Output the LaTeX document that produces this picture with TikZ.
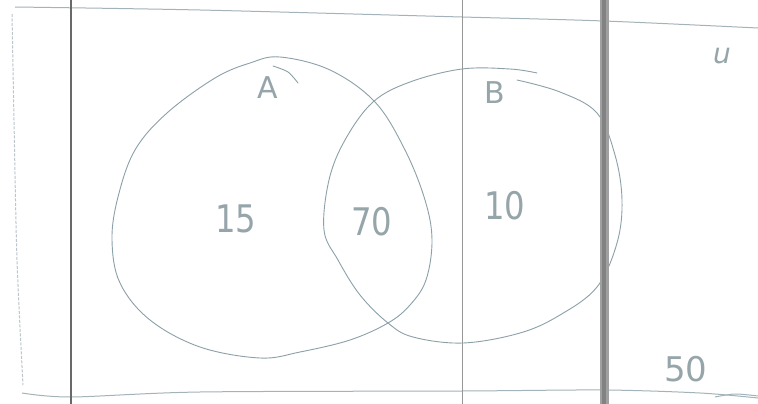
\documentclass[tikz,border=0pt]{standalone}
\usepackage{fontspec}
\setmainfont{DejaVu Sans}
\definecolor{pencil}{RGB}{140,160,168}
\definecolor{inkgray}{RGB}{150,165,170}
\definecolor{ruleA}{RGB}{105,105,105}
\definecolor{ruleB}{RGB}{150,150,150}
\definecolor{band}{RGB}{160,160,160}
\definecolor{bandcore}{RGB}{130,130,130}
\begin{document}
\begin{tikzpicture}[x=1pt,y=-1pt,
  curve/.style={draw=pencil,line width=0.9pt,line cap=round,line join=round},
  paper/.style={draw=pencil!80,line width=1pt},
  hand/.style={text=inkgray,inner sep=0pt,font=\fontsize{38}{38}\selectfont\addfontfeature{FakeStretch=0.85}},
  handsmall/.style={hand,font=\fontsize{30}{30}\selectfont}]
\useasboundingbox (0,0) rectangle (758,404);
\fill[white] (0,0) rectangle (758,404);
% paper borders
\draw[paper] plot[smooth] coordinates {(15,7) (200,10) (462,17) (604,21) (758,28)};
\draw[paper] plot[smooth] coordinates {(22,393) (71,397) (200,392) (462,391) (604,390) (700,393) (758,398)};
\draw[paper] plot[smooth] coordinates {(715,397) (735,394) (758,396)};
\draw[paper,draw=pencil!60,dash pattern=on 3pt off 1.5pt] plot[smooth] coordinates {(12,14) (14,120) (17,260) (23,385)};
% ruling lines
\draw[ruleA,line width=1.3pt] (71,0) -- (71,404);
\draw[ruleB,line width=0.9pt] (462,0) -- (462,404);
% circle A
\draw[curve] plot[smooth cycle,tension=0.6] coordinates {(280,57) (330,70) (375,102) (405,150) (425,200) (432,240) (426,280) (410,305) (388,323) (350,340) (300,352) (260,358) (200,347) (150,320) (120,283) (112,240) (118,197) (135,150) (167,113) (215,78) (250,63)};
\draw[curve] plot[smooth] coordinates {(273,66) (288,72) (298,83)};
% circle B
\draw[curve] plot[smooth,tension=0.6] coordinates {(517,80) (560,92) (597,113) (615,155) (622,200) (617,243) (597,287) (560,315) (520,333) (463,343) (413,337) (388,323) (360,295) (338,260) (324,230) (329,180) (345,140) (373,102) (410,82) (462,69) (510,69) (537,73)};
% thick ruling band
\draw[band,line width=9pt] (604,0) -- (604,404);
\draw[bandcore,line width=4pt] (604,0) -- (604,404);
% labels
\node[handsmall] (labA) at (268,88) {A};
\node[handsmall] (labB) at (495,93) {B};
\node[hand] (n15) at (236,219) {15};
\node[hand] (n70) at (372,222) {70};
\node[hand] (n10) at (505,206) {10};
\node[handsmall,font=\fontsize{28}{28}\selectfont\itshape] (labU) at (722,56) {u};
\node[hand,font=\fontsize{34}{34}\selectfont] (n50) at (686,369) {50};
\end{tikzpicture}
\end{document}
